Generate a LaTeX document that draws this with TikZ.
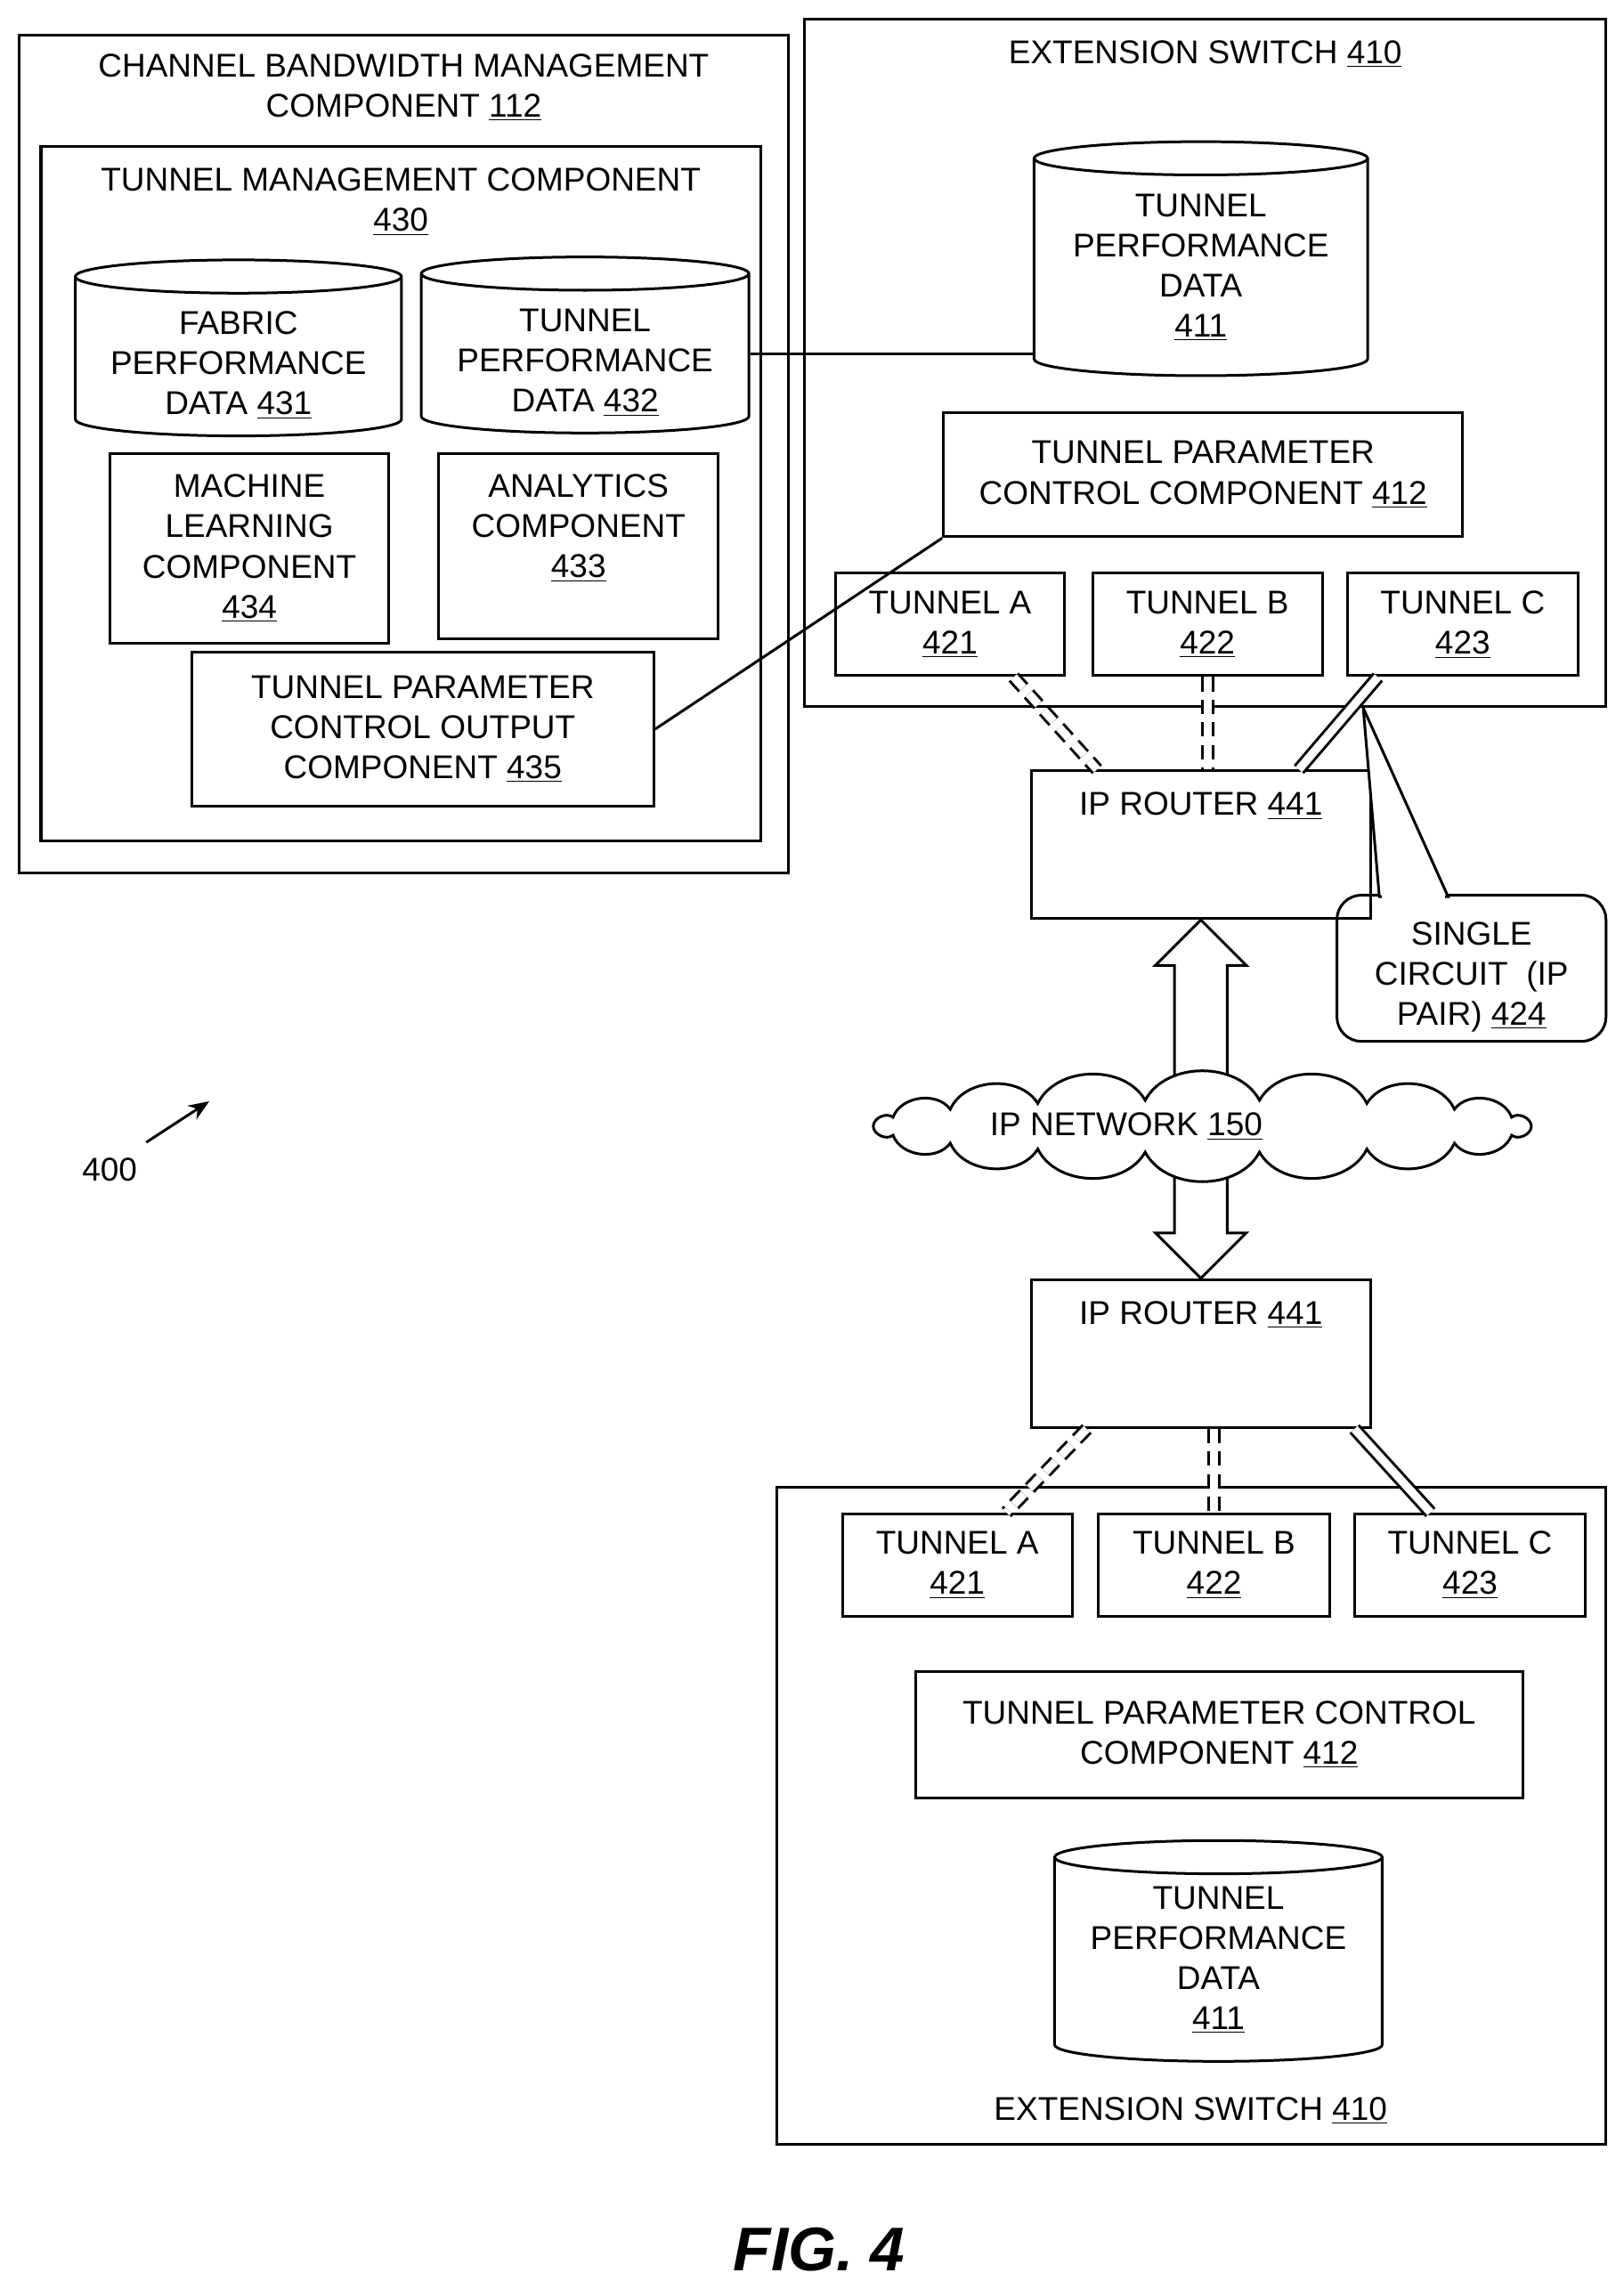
\documentclass[tikz,border=0pt]{standalone}
\usepackage{fontspec}
\setmainfont{Liberation Sans}
\usetikzlibrary{shapes.geometric,arrows.meta,fit}
\newcommand{\un}{0.025cm}
\begin{document}
\begin{tikzpicture}[x=0.025cm,y=-0.025cm,
  font=\fontsize{16}{19.5}\selectfont,
  box/.style={draw, line width=1.3pt, inner sep=0pt},
  Store/.style={draw, line width=1.3pt, cylinder, shape border rotate=90, aspect=0.13, align=center, inner sep=0pt},
  Part/.style={draw, line width=1.3pt, align=center, inner sep=0pt},
  link/.style={line width=1.3pt},
  dlink/.style={double, double distance=4pt, line width=1.3pt},
  ddlink/.style={dlink, dash pattern=on 7pt off 4pt},
  fat/.style={draw, line width=1.3pt, fill=white, line join=miter}]

\useasboundingbox (0,0) rectangle (1110,1565);

% Definitions of the left block
\node (cbm) [box, fit={(13,24)(539,597)}] {};
\node [align=center] at (276,60) {CHANNEL BANDWIDTH MANAGEMENT\\COMPONENT \underline{112}};
\node (tmc) [box, fit={(28,100)(520,575)}] {};
\node [align=center] at (274,138) {TUNNEL MANAGEMENT COMPONENT\\\underline{430}};
\node (fpd) [Store, minimum width=223*\un, minimum height=113*\un] at (163,244) {\\FABRIC\\PERFORMANCE\\DATA \underline{431}};
\node (tpd) [Store, minimum width=224*\un, minimum height=112*\un] at (400,242) {\\TUNNEL\\PERFORMANCE\\DATA \underline{432}};
\node (mlc) [Part, minimum width=191*\un, minimum height=130*\un] at (170.5,375) {MACHINE\\LEARNING\\COMPONENT\\\underline{434}};
\node (anc) [box, fit={(300,310)(491,437)}] {};
\node [align=center] at (395.5,361) {ANALYTICS\\COMPONENT\\\underline{433}};
\node (tpco) [Part, fill=white, minimum width=316*\un, minimum height=105*\un] at (289,498.5) {TUNNEL PARAMETER\\CONTROL OUTPUT\\COMPONENT \underline{435}};

% Top extension switch
\node (es1) [box, fit={(550,13)(1098,483)}] {};
\node at (824,37) {EXTENSION SWITCH \underline{410}};
\node (tpd1) [Store, minimum width=228*\un, minimum height=160*\un] at (821,183) {TUNNEL\\PERFORMANCE\\DATA\\\underline{411}};
\node (tpc1) [Part, minimum width=355*\un, minimum height=85*\un] at (822.5,324.5) {TUNNEL PARAMETER\\CONTROL COMPONENT \underline{412}};
\node (ta1) [Part, minimum width=157*\un, minimum height=70*\un] at (649.5,427) {TUNNEL A\\\underline{421}};
\node (tb1) [Part, minimum width=157*\un, minimum height=70*\un] at (825.5,427) {TUNNEL B\\\underline{422}};
\node (tc1) [Part, minimum width=158*\un, minimum height=70*\un] at (1000,427) {TUNNEL C\\\underline{423}};

% Routers and network
\node (r1) [box, fit={(705,527)(937,628)}] {};
\node at (821,551) {IP ROUTER \underline{441}};
\node (r2) [box, fit={(705,875)(937,976)}] {};
\node at (821,899) {IP ROUTER \underline{441}};
\draw [fat] (821,629) -- (852,660) -- (839,660) -- (839,760) -- (803,760) -- (803,660) -- (790,660) -- cycle;
\draw [fat] (821,874) -- (852,843) -- (839,843) -- (839,780) -- (803,780) -- (803,843) -- (790,843) -- cycle;
\draw [fat] (1047,770) \foreach \i in {1,...,18} { to[bend left=62] ({822+225*cos(\i*20)},{770+18*sin(\i*20)}) };
\node (net) at (770,770) {IP NETWORK \underline{150}};

% Callout
\node (sc) [box, rounded corners=12pt, fit={(914,612)(1098,712)}] {};
\node [align=center] at (1006,668) {SINGLE\\CIRCUIT\ \ (IP\\PAIR) \underline{424}};
\coordinate (cp) at (932,484);
\draw [link, fill=white] (cp) -- (943,613) -- (990,613) -- cycle;
\draw [white, line width=2pt] (945,613) -- (988,613);

% Bottom extension switch
\node (es2) [box, fit={(531,1017)(1098,1466)}] {};
\node at (814,1443) {EXTENSION SWITCH \underline{410}};
\node (ta2) [Part, minimum width=157*\un, minimum height=70*\un] at (654.5,1070) {TUNNEL A\\\underline{421}};
\node (tb2) [Part, minimum width=158*\un, minimum height=70*\un] at (830,1070) {TUNNEL B\\\underline{422}};
\node (tc2) [Part, minimum width=158*\un, minimum height=70*\un] at (1005,1070) {TUNNEL C\\\underline{423}};
\node (tpc2) [Part, minimum width=415*\un, minimum height=86*\un] at (833.5,1186) {TUNNEL PARAMETER CONTROL\\COMPONENT \underline{412}};
\node (tpd2) [Store, minimum width=224*\un, minimum height=151*\un] at (833,1340) {TUNNEL\\PERFORMANCE\\DATA\\\underline{411}};

% Connectors
\draw [link] (tpd.east) -- (tpd.east -| tpd1.west);
\draw [link] (tpco.east) -- (tpc1.south west);
\draw [ddlink] (ta1.south -| 693,0) -- (r1.north -| 750,0);
\draw [ddlink] (tb1.south) -- (r1.north -| tb1.south);
\draw [dlink] (tc1.south -| 942,0) -- (r1.north -| 888,0);
\draw [ddlink] (r2.south -| 743,0) -- (ta2.north -| 688,0);
\draw [ddlink] (r2.south -| 830,0) -- (tb2.north);
\draw [dlink] (r2.south -| 926,0) -- (tc2.north -| 978,0);

% Label
\node (lbl) at (75,800) {400};
\coordinate (lt) at (143,753);
\draw [link, -{Stealth[length=10pt,width=8pt]}] (100,781) -- (lt);
\node (fig) at (560,1538) {\fontsize{30}{34}\selectfont\bfseries\itshape FIG. 4};
\end{tikzpicture}
\end{document}
